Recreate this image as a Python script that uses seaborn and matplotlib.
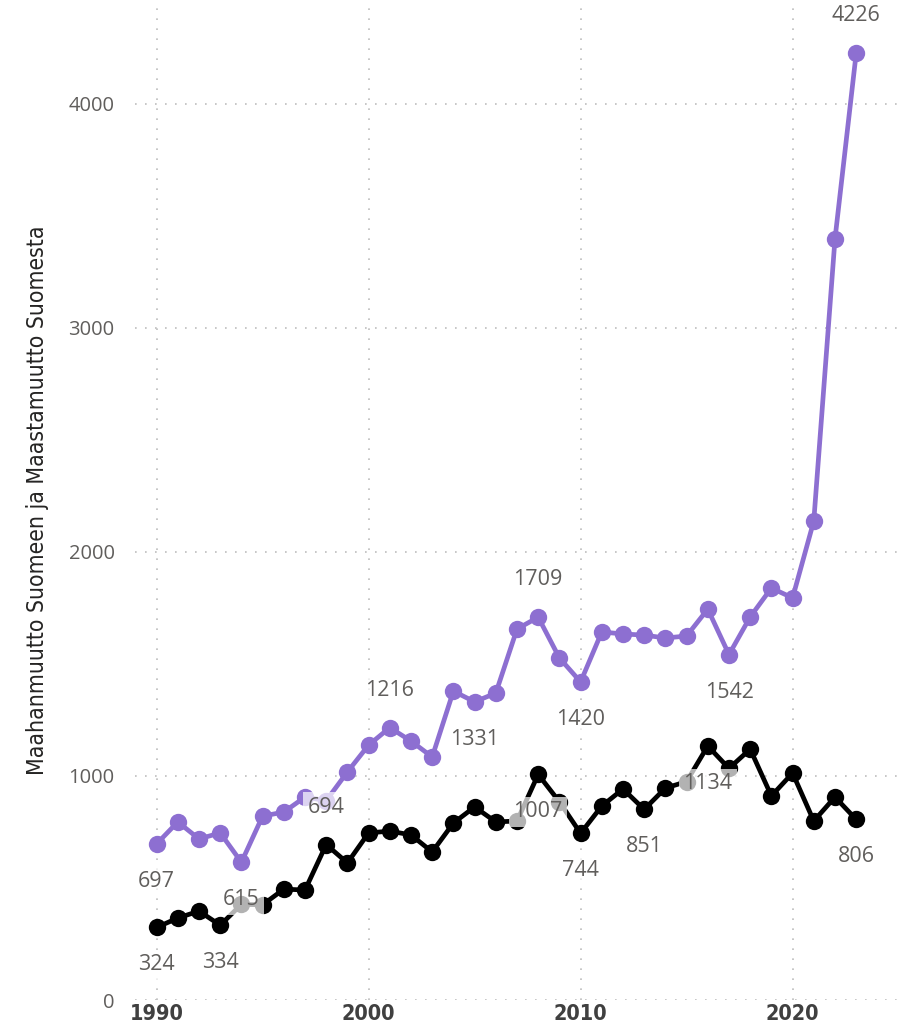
import pandas as pd
import seaborn as sns
import matplotlib.pyplot as plt
from matplotlib import font_manager

# Values
years = list(range(1990, 2024))
maahanmuutto = [697, 795, 719, 746, 615, 821, 839, 906, 890, 1018, 1138, 1216, 1156, 1085,
                1379, 1331, 1370, 1656, 1709, 1527, 1420, 1643, 1634, 1629, 1616, 1625,
                1745, 1542, 1710, 1839, 1795, 2138, 3397, 4226]
maastamuutto = [324, 366, 397, 334, 427, 425, 495, 491, 694, 612, 746, 754, 737, 661,
                790, 862, 795, 799, 1007, 885, 744, 866, 942, 851, 946, 975,
                1134, 1034, 1120, 911, 1013, 799, 906, 806]

# data labels: (year, direction) -- +1 above, -1 below
labels_in = [(1990, -1), (1994, -1), (2001, 1), (2005, -1), (2008, 1), (2010, -1), (2017, -1), (2023, 1)]
labels_out = [(1990, -1), (1993, -1), (1998, 1), (2008, -1), (2010, -1), (2013, -1), (2016, -1), (2023, -1)]

y_ticks = [0, 1000, 2000, 3000, 4000]
x_ticks = [1990, 2000, 2010, 2020]

PURPLE = '#8d6fd1'
BLACK = '#000000'
LABEL_GREY = '#605e5c'

installed = {f.name for f in font_manager.fontManager.ttflist}
narrow = 'Liberation Sans Narrow' if 'Liberation Sans Narrow' in installed else 'DejaVu Sans'

df = pd.DataFrame({
    'Vuosi': years * 2,
    'Henkilöä': maahanmuutto + maastamuutto,
    'Suunta': ['Maahanmuutto'] * len(years) + ['Maastamuutto'] * len(years),
})

sns.set_theme(style='white')
plt.rcParams['font.family'] = ['Open Sans', 'DejaVu Sans']

fig = plt.figure(figsize=(9.15, 10.35), dpi=100)
ax = fig.add_axes([0.148, 0.0338, 0.841, 0.9662])

sns.lineplot(data=df, x='Vuosi', y='Henkilöä', hue='Suunta',
             palette={'Maahanmuutto': PURPLE, 'Maastamuutto': BLACK},
             marker='o', markersize=12.5, markeredgewidth=0, linewidth=3.4,
             legend=False, ax=ax, zorder=3)

ax.set_xlim(1989.0, 2025.3)
ax.set_ylim(0, 4464)
ax.set_xticks(x_ticks)
ax.set_yticks(y_ticks)
ax.grid(True, linestyle=(0, (1, 5)), color='#bdbdbd', linewidth=1.2)
ax.set_axisbelow(True)
for s in ax.spines.values():
    s.set_visible(False)
ax.tick_params(length=0)
ax.tick_params(axis='y', labelsize=14.5, labelcolor=LABEL_GREY, pad=15)
ax.tick_params(axis='x', pad=3)
for t in ax.get_xticklabels():
    t.set_fontfamily(narrow)
    t.set_fontstretch('condensed')
    t.set_fontweight('bold')
    t.set_fontsize(15.5)
    t.set_color('#404040')

ax.set_xlabel('')
ax.set_ylabel('Maahanmuutto Suomeen ja Maastamuutto Suomesta',
              fontsize=16.5, family=narrow, fontstretch='condensed',
              color='#252423', labelpad=14)


def add_labels(values, spec):
    for yr, d in spec:
        v = values[years.index(yr)]
        ax.annotate(str(v), (yr, v), xytext=(0, 27 * d), textcoords='offset points',
                    ha='center', va='center', fontsize=15.5, color=LABEL_GREY,
                    bbox=dict(boxstyle='square,pad=0.2', fc='white', ec='none', alpha=0.7),
                    zorder=6)


add_labels(maahanmuutto, labels_in)
add_labels(maastamuutto, labels_out)

fig.savefig('out.png', dpi=100)
